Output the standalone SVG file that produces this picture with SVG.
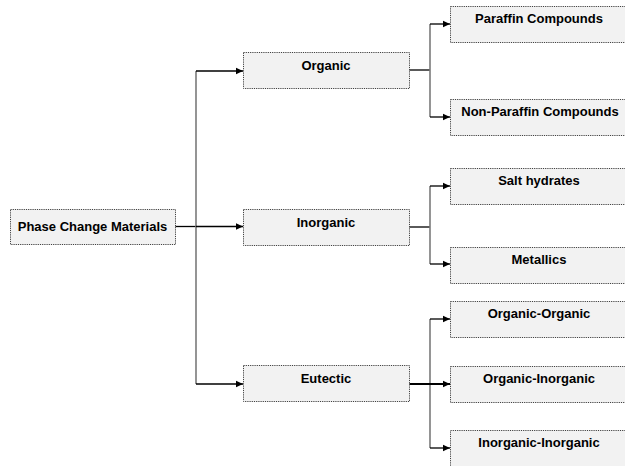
<svg xmlns="http://www.w3.org/2000/svg" width="625" height="466" viewBox="0 0 625 466">
<defs>
<style>
.box{fill:#f2f2f2;stroke:#404040;stroke-width:1;stroke-dasharray:1.2,1}
.t{font-family:"Liberation Sans",Arial,sans-serif;font-weight:bold;font-size:13px;fill:#000;text-anchor:middle}
.h{fill:none;stroke:#000;stroke-width:1.3}
.v{fill:none;stroke:#7a7a7a;stroke-width:1.6}
.a{fill:none;stroke:#000;stroke-width:1.3;marker-end:url(#arr)}
</style>
<marker id="arr" markerUnits="userSpaceOnUse" markerWidth="8" markerHeight="8" refX="7" refY="4" orient="auto">
<path d="M0,0.8 L7,4 L0,7.2 Z" fill="#000"/>
</marker>
</defs>
<rect width="625" height="466" fill="#fff"/>
<g id="connectors">
<line class="h" x1="175" y1="226.5" x2="196" y2="226.5"/>
<line class="v" x1="196" y1="71" x2="196" y2="384"/>
<line class="a" x1="196" y1="71" x2="243" y2="71"/>
<line class="a" x1="196" y1="226.5" x2="243" y2="226.5"/>
<line class="a" x1="196" y1="384" x2="243" y2="384"/>
<line class="h" x1="409" y1="70" x2="430" y2="70"/>
<line class="v" x1="430" y1="24" x2="430" y2="117"/>
<line class="a" x1="430" y1="24" x2="450" y2="24"/>
<line class="a" x1="430" y1="117" x2="450" y2="117"/>
<line class="h" x1="409" y1="227" x2="430" y2="227"/>
<line class="v" x1="430" y1="186" x2="430" y2="264"/>
<line class="a" x1="430" y1="186" x2="450" y2="186"/>
<line class="a" x1="430" y1="264" x2="450" y2="264"/>
<line class="v" x1="430" y1="319" x2="430" y2="448"/>
<line class="a" x1="430" y1="319" x2="450" y2="319"/>
<line class="a" x1="430" y1="448" x2="450" y2="448"/>
<line class="a" x1="409" y1="384" x2="450" y2="384" style="stroke-width:2"/>
</g>
<g id="pcm"><rect class="box" x="10.5" y="209.5" width="165" height="35"/><text class="t" x="92.5" y="231">Phase Change Materials</text></g>
<g id="organic"><rect class="box" x="243.5" y="52.5" width="166" height="36"/><text class="t" x="326" y="70">Organic</text></g>
<g id="inorganic"><rect class="box" x="243.5" y="209.5" width="166" height="36"/><text class="t" x="326" y="227">Inorganic</text></g>
<g id="eutectic"><rect class="box" x="243.5" y="365.5" width="166" height="36"/><text class="t" x="326" y="383">Eutectic</text></g>
<g id="paraffin"><rect class="box" x="450.5" y="6.5" width="180" height="36"/><text class="t" x="539" y="23">Paraffin Compounds</text></g>
<g id="nonparaffin"><rect class="box" x="450.5" y="99.5" width="180" height="36"/><text class="t" x="540" y="116">Non-Paraffin Compounds</text></g>
<g id="salt"><rect class="box" x="450.5" y="168.5" width="180" height="36"/><text class="t" x="539" y="185">Salt hydrates</text></g>
<g id="metallics"><rect class="box" x="450.5" y="247.5" width="180" height="36"/><text class="t" x="539" y="264">Metallics</text></g>
<g id="orgorg"><rect class="box" x="450.5" y="301.5" width="180" height="36"/><text class="t" x="539" y="318">Organic-Organic</text></g>
<g id="orginorg"><rect class="box" x="450.5" y="366.5" width="180" height="36"/><text class="t" x="539" y="383">Organic-Inorganic</text></g>
<g id="inorginorg"><rect class="box" x="450.5" y="430.5" width="180" height="40"/><text class="t" x="539" y="447">Inorganic-Inorganic</text></g>
</svg>
